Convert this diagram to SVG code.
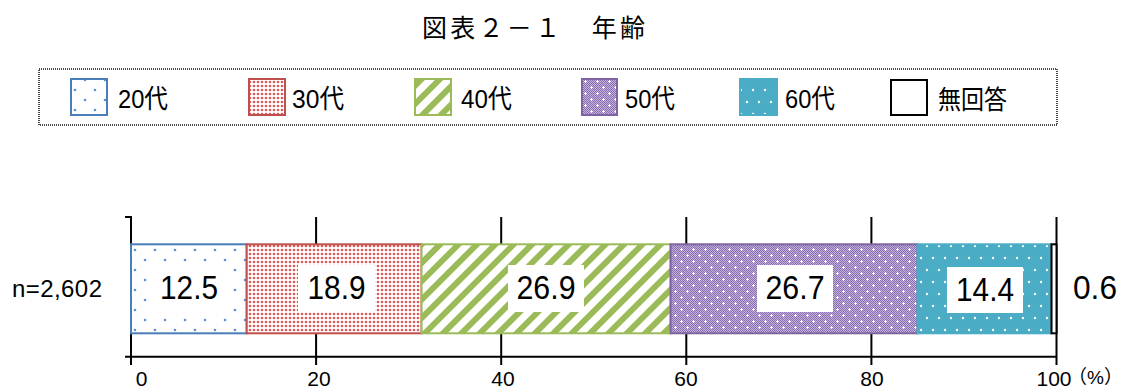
<svg xmlns="http://www.w3.org/2000/svg" width="1126" height="390" viewBox="0 0 1126 390">
<style>
text{font-family:"Liberation Sans","Noto Sans CJK JP",sans-serif;fill:#000}
.title{font-family:"Noto Sans CJK JP",sans-serif;font-size:25px}
.leg{font-size:26px}
.val{font-size:34px;text-anchor:middle}
.ax{font-size:21px;text-anchor:middle}
.grid{stroke:#000;stroke-width:2;fill:none}
.lbox{fill:#fff;stroke:none}
</style>
<defs>
<pattern id="p20" width="20" height="20" patternUnits="userSpaceOnUse" x="131" y="244">
<rect width="20" height="20" fill="#fff"/>
<circle cx="4" cy="6" r="1.3" fill="#5B8FD6"/>
<circle cx="14" cy="16" r="1.3" fill="#5B8FD6"/>
</pattern>
<pattern id="p30" width="4" height="4" patternUnits="userSpaceOnUse">
<rect width="4" height="4" fill="#fff"/>
<circle cx="2" cy="2" r="1.3" fill="#D9585A"/>
</pattern>
<pattern id="p40" width="13" height="13" patternUnits="userSpaceOnUse" patternTransform="rotate(45)">
<rect width="13" height="13" fill="#fff"/>
<rect width="6" height="13" fill="#9BBB59"/>
</pattern>
<pattern id="p50" width="12" height="12" patternUnits="userSpaceOnUse">
<rect width="12" height="12" fill="#C2B3DB"/>
<path d="M0 0h1v1h-1zM2 0h1v1h-1zM4 0h1v1h-1zM6 0h1v1h-1zM8 0h1v1h-1zM10 0h1v1h-1zM1 1h1v1h-1zM3 1h1v1h-1zM5 1h1v1h-1zM7 1h1v1h-1zM9 1h1v1h-1zM11 1h1v1h-1z" fill="#8A6DB3"/>
<path d="M0 2h1v1h-1zM2 2h1v1h-1zM4 2h1v1h-1zM6 2h1v1h-1zM8 2h1v1h-1zM10 2h1v1h-1zM1 3h1v1h-1zM3 3h1v1h-1zM5 3h1v1h-1zM7 3h1v1h-1zM9 3h1v1h-1zM11 3h1v1h-1z" fill="#8A6DB3"/>
<path d="M0 4h1v1h-1zM2 4h1v1h-1zM4 4h1v1h-1zM6 4h1v1h-1zM8 4h1v1h-1zM10 4h1v1h-1zM1 5h1v1h-1zM3 5h1v1h-1zM5 5h1v1h-1zM7 5h1v1h-1zM9 5h1v1h-1zM11 5h1v1h-1z" fill="#8A6DB3"/>
<path d="M0 6h1v1h-1zM2 6h1v1h-1zM4 6h1v1h-1zM6 6h1v1h-1zM8 6h1v1h-1zM10 6h1v1h-1zM1 7h1v1h-1zM3 7h1v1h-1zM5 7h1v1h-1zM7 7h1v1h-1zM9 7h1v1h-1zM11 7h1v1h-1z" fill="#8A6DB3"/>
<path d="M0 8h1v1h-1zM2 8h1v1h-1zM4 8h1v1h-1zM6 8h1v1h-1zM8 8h1v1h-1zM10 8h1v1h-1zM1 9h1v1h-1zM3 9h1v1h-1zM5 9h1v1h-1zM7 9h1v1h-1zM9 9h1v1h-1zM11 9h1v1h-1z" fill="#8A6DB3"/>
<path d="M0 10h1v1h-1zM2 10h1v1h-1zM4 10h1v1h-1zM6 10h1v1h-1zM8 10h1v1h-1zM10 10h1v1h-1zM1 11h1v1h-1zM3 11h1v1h-1zM5 11h1v1h-1zM7 11h1v1h-1zM9 11h1v1h-1zM11 11h1v1h-1z" fill="#8A6DB3"/>
<path d="M2 3h3v1h-3zM3 2h1v3h-1zM8 9h3v1h-3zM9 8h1v3h-1z" fill="#fff"/>
</pattern>
<pattern id="p60" width="12" height="24" patternUnits="userSpaceOnUse">
<rect width="12" height="24" fill="#4BACC6"/>
<circle cx="3" cy="6" r="1.2" fill="#fff"/>
<circle cx="9" cy="18" r="1.2" fill="#fff"/>
</pattern>
</defs>

<text class="title" x="422" y="37" textLength="223" lengthAdjust="spacing">図表２－１　年齢</text>

<g id="legend">
<rect x="39" y="69" width="1018" height="56" fill="#fff" stroke="#4a4a4a" stroke-width="2" stroke-dasharray="1 1"/>
<g id="leg-20"><rect x="71" y="79" width="36" height="36" fill="url(#p20)" stroke="#4A7EBB" stroke-width="2"/><text class="leg" x="118" y="108" textLength="50" lengthAdjust="spacingAndGlyphs">20代</text></g>
<g id="leg-30"><rect x="249" y="79" width="36" height="36" fill="url(#p30)" stroke="#C0504D" stroke-width="2"/><text class="leg" x="292" y="108" textLength="52" lengthAdjust="spacingAndGlyphs">30代</text></g>
<g id="leg-40"><rect x="415" y="79" width="36" height="36" fill="url(#p40)" stroke="#9BBB59" stroke-width="2"/><text class="leg" x="461" y="108" textLength="51" lengthAdjust="spacingAndGlyphs">40代</text></g>
<g id="leg-50"><rect x="582" y="79" width="35" height="36" fill="url(#p50)" stroke="#8064A2" stroke-width="2"/><text class="leg" x="625" y="108" textLength="50" lengthAdjust="spacingAndGlyphs">50代</text></g>
<g id="leg-60"><rect x="740" y="79" width="37" height="36" fill="url(#p60)" stroke="#4BACC6" stroke-width="2"/><text class="leg" x="785" y="108" textLength="50" lengthAdjust="spacingAndGlyphs">60代</text></g>
<g id="leg-na"><rect x="891" y="80" width="36" height="35" fill="#fff" stroke="#000" stroke-width="2"/><text class="leg" x="938" y="109" font-size="25" textLength="69" lengthAdjust="spacingAndGlyphs">無回答</text></g>
</g>

<g id="axes">
<path class="grid" d="M316.1 217V365M501.2 217V365M686.3 217V365M871.4 217V365M1056.5 217V365"/>
<path class="grid" d="M125 217H131V365M125 356.7H1056.5"/>
</g>

<g id="bars">
<g id="seg-20"><rect x="131" y="244.3" width="115.7" height="89" fill="url(#p20)" stroke="#4A7EBB" stroke-width="2"/><rect class="lbox" x="151" y="265" width="76" height="47"/><text class="val" x="189" y="299" textLength="58" lengthAdjust="spacingAndGlyphs">12.5</text></g>
<g id="seg-30"><rect x="246.7" y="244.3" width="174.9" height="89" fill="url(#p30)" stroke="#C0504D" stroke-width="2"/><rect class="lbox" x="298" y="265" width="77" height="47"/><text class="val" x="336.5" y="299" textLength="58" lengthAdjust="spacingAndGlyphs">18.9</text></g>
<g id="seg-40"><rect x="421.6" y="244.3" width="249" height="89" fill="url(#p40)" stroke="#9BBB59" stroke-width="2"/><rect class="lbox" x="508" y="265" width="76" height="47"/><text class="val" x="546" y="299" textLength="59" lengthAdjust="spacingAndGlyphs">26.9</text></g>
<g id="seg-50"><rect x="670.6" y="244.3" width="247" height="89" fill="url(#p50)" stroke="#8064A2" stroke-width="2"/><rect class="lbox" x="757" y="265" width="76" height="47"/><text class="val" x="795" y="299" textLength="59" lengthAdjust="spacingAndGlyphs">26.7</text></g>
<g id="seg-60"><rect x="917.6" y="244.3" width="133.4" height="89" fill="url(#p60)" stroke="#4BACC6" stroke-width="2"/><rect class="lbox" x="947" y="267" width="76" height="46"/><text class="val" x="985" y="301" textLength="58" lengthAdjust="spacingAndGlyphs">14.4</text></g>
<g id="seg-na"><rect x="1051.5" y="244.3" width="5" height="89" fill="#fff" stroke="#000" stroke-width="2"/><text class="val" x="1095" y="299" textLength="44" lengthAdjust="spacingAndGlyphs">0.6</text></g>
</g>

<text x="12" y="297" font-size="24" textLength="90" lengthAdjust="spacing">n=2,602</text>

<g id="axis-labels">
<text class="ax" x="141.5" y="386">0</text>
<text class="ax" x="319" y="386">20</text>
<text class="ax" x="503" y="386">40</text>
<text class="ax" x="686" y="386">60</text>
<text class="ax" x="872" y="386">80</text>
<text class="ax" x="1054" y="386">100</text>
<text x="1068" y="384" font-size="19" font-family="Noto Sans CJK JP, sans-serif">（%）</text>
</g>
</svg>
